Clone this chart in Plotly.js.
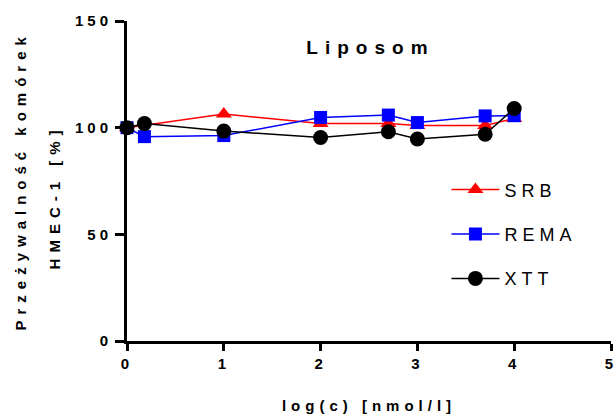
<!DOCTYPE html>
<html>
<head>
<meta charset="utf-8">
<script src="https://cdn.plot.ly/plotly-3.0.1.min.js"></script>
<style>
html,body{margin:0;padding:0;background:#fff;}
#chart{width:616px;height:417px;}
.xtick text, .ytick text { letter-spacing: 4px; }
.xtitle { letter-spacing: 5px; }
.legendtext { letter-spacing: 5px; }
.annotation-text { letter-spacing: 6px; }
.gtitle { letter-spacing: 7px; }
</style>
</head>
<body>
<div id="chart"></div>
<script>
// Data
const srbX  = [0, 1, 2, 2.7, 3, 3.7, 4];
const srbY  = [100, 106.4, 102.0, 102.0, 101.0, 101.0, 104.3];
const remaX = [0, 0.18, 1, 2, 2.7, 3, 3.7, 4];
const remaY = [100, 95.8, 96.3, 104.8, 105.9, 102.4, 105.5, 105.6];
const xttX  = [0, 0.18, 1, 2, 2.7, 3, 3.7, 4];
const xttY  = [100, 101.9, 98.4, 95.4, 98.1, 94.7, 96.9, 109.0];
const seriesNames = ["SRB", "REMA", "XTT"];
const xTicks = [0, 1, 2, 3, 4, 5];
const yTicks = [0, 50, 100, 150];
const chartTitle = "Liposom";
const yTitleLine1 = "Przeżywalność komórek";
const yTitleLine2 = "HMEC-1 [%]";
const xTitle = "log(c) [nmol/l]";

const FONT = "Liberation Sans, Arial, sans-serif";

const traces = [
  {x: srbX, y: srbY, name: seriesNames[0], legendgroup: "a", mode: "lines+markers",
   line: {color: "#ff0000", width: 1.5},
   marker: {symbol: "triangle-up", size: 14, color: "#ff0000"}, cliponaxis: false},
  {x: remaX, y: remaY, name: seriesNames[1], legendgroup: "b", mode: "lines+markers",
   line: {color: "#0000ff", width: 1.5},
   marker: {symbol: "square", size: 13, color: "#0000ff"}, cliponaxis: false},
  {x: xttX, y: xttY, name: seriesNames[2], legendgroup: "c", mode: "lines+markers",
   line: {color: "#000000", width: 1.5},
   marker: {symbol: "circle", size: 15, color: "#000000"}, cliponaxis: false}
];

const layout = {
  width: 616, height: 417,
  margin: {l: 127, r: 5, t: 21, b: 76},
  paper_bgcolor: "#fff", plot_bgcolor: "#fff",
  font: {family: FONT, color: "#000"},
  title: {text: chartTitle, font: {family: FONT, size: 19, weight: 700, color: "#000"},
          xref: "paper", x: 0.503, xanchor: "center", yref: "container", y: 0.887, yanchor: "middle"},
  xaxis: {
    range: [0, 5], tickvals: xTicks, ticktext: xTicks.map(String),
    showgrid: false, zeroline: false, showline: true, linecolor: "#000", linewidth: 3,
    ticks: "outside", ticklen: 7, tickwidth: 3, tickcolor: "#000",
    ticklabeloverflow: "allow",
    tickfont: {family: FONT, size: 15, weight: 700},
    title: {text: xTitle, font: {family: FONT, size: 15, weight: 700}, standoff: 30}
  },
  yaxis: {
    range: [0, 150], tickvals: yTicks, ticktext: yTicks.map(String),
    showgrid: false, zeroline: false, showline: true, linecolor: "#000", linewidth: 3,
    ticks: "outside", ticklen: 9, tickwidth: 3, tickcolor: "#000",
    tickfont: {family: FONT, size: 15, weight: 700}
  },
  annotations: [
    {text: yTitleLine1, xref: "paper", yref: "paper", x: -0.222, y: 0.5, xanchor: "center", yanchor: "middle",
     textangle: -90, showarrow: false, font: {family: FONT, size: 15, weight: 700}},
    {text: yTitleLine2, xref: "paper", yref: "paper", x: -0.15, y: 0.45, xanchor: "center", yanchor: "middle",
     textangle: -90, showarrow: false, font: {family: FONT, size: 15, weight: 700}}
  ],
  showlegend: true,
  legend: {x: 0.66, xanchor: "left", y: 0.53, yanchor: "top", bgcolor: "rgba(0,0,0,0)",
           borderwidth: 0, itemwidth: 48, tracegroupgap: 18, traceorder: "grouped",
           font: {family: FONT, size: 18, color: "#000"}}
};

Plotly.newPlot("chart", traces, layout, {displayModeBar: false, staticPlot: true});
</script>
</body>
</html>
